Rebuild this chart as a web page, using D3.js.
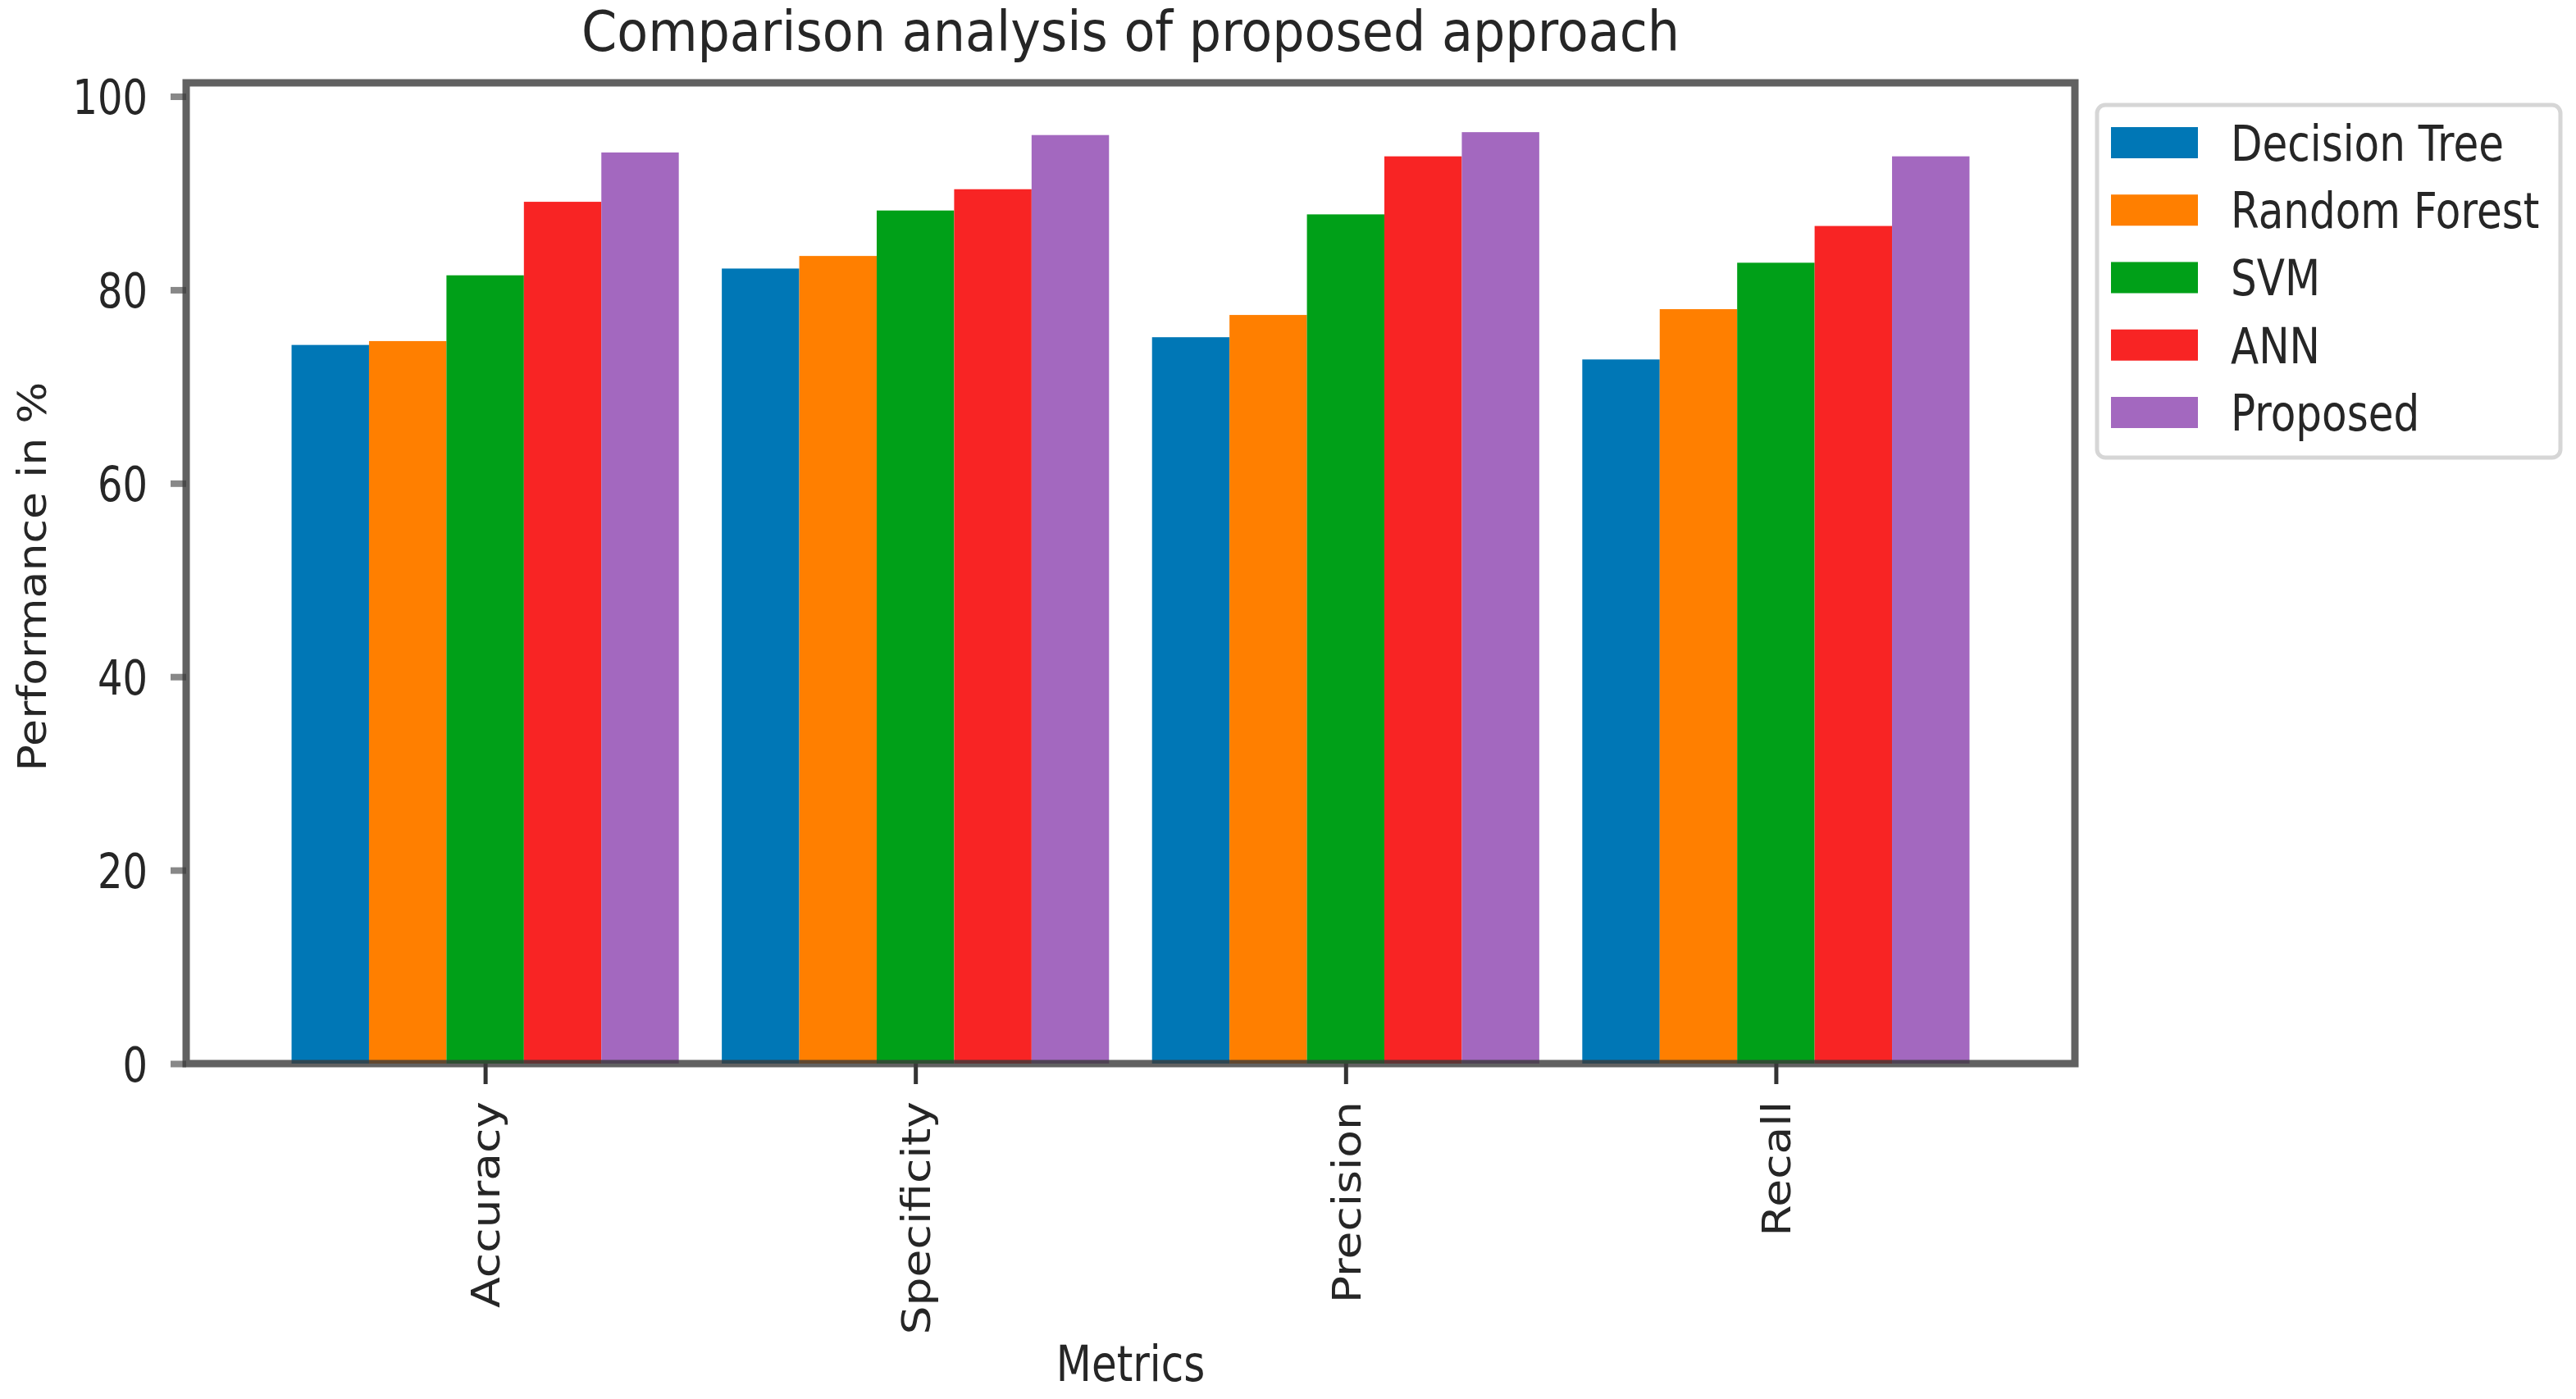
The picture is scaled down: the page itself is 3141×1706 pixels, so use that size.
<!DOCTYPE html>
<html>
<head>
<meta charset="utf-8">
<title>Comparison analysis of proposed approach</title>
<script src="https://cdn.jsdelivr.net/npm/d3@7/dist/d3.min.js"></script>
<style>
  body { margin: 0; background: #fff; }
  text { font-family: "DejaVu Sans", sans-serif; fill: #262626; }
</style>
</head>
<body>
<script>
// data
var metrics = ["Accuracy", "Specificity", "Precision", "Recall"];
var models = ["Decision Tree", "Random Forest", "SVM", "ANN", "Proposed"];
var decisionTree = [74.3, 82.2, 75.1, 72.8];
var randomForest = [74.7, 83.5, 77.4, 78.0];
var svmScores = [81.5, 88.2, 87.8, 82.8];
var annScores = [89.1, 90.4, 93.8, 86.6];
var proposed = [94.2, 96.0, 96.3, 93.8];
var yTicks = [0, 20, 40, 60, 80, 100];
var colors = ["#0077b6", "#ff7f00", "#00a018", "#f82424", "#a368bf"];

var series = [decisionTree, randomForest, svmScores, annScores, proposed];

var W = 3141, H = 1706;
// plot box (window.top is reserved, so use own names)
var pLeft = 227, pRight = 2530, pTop = 101, pBottom = 1297;
var ky = 1.22; // the picture is stretched a bit vertically
var fs = 48;

var svg = d3.select("body").append("svg")
  .attr("width", W).attr("height", H);

var x = d3.scaleLinear().domain([-0.695, 3.695]).range([pLeft, pRight]);
var y = d3.scaleLinear().domain([0, 101.4]).range([pBottom, pTop]);
var barW = 0.18;

// bars
series.forEach(function (vals, s) {
  svg.append("g").selectAll("rect")
    .data(vals)
    .enter()
    .append("rect")
    .attr("x", function (d, i) { return x(i + (s - 2) * barW - barW / 2); })
    .attr("width", x(barW) - x(0))
    .attr("y", function (d) { return y(d); })
    .attr("height", function (d) { return pBottom - y(d); })
    .attr("fill", colors[s]);
});

// y axis
var yAxis = d3.axisLeft(y).tickValues(yTicks).tickSize(19).tickPadding(0).tickFormat(d3.format("d"));
var gy = svg.append("g").attr("transform", "translate(" + pLeft + ",0)").call(yAxis);
gy.select(".domain").remove();
gy.selectAll(".tick line").attr("stroke", "#888").attr("stroke-width", 8);
gy.selectAll(".tick text").remove();
gy.selectAll(".tick").append("text")
  .attr("transform", "translate(-47,0) scale(1," + ky + ")")
  .attr("text-anchor", "end")
  .attr("dy", "0.36em")
  .attr("font-size", fs)
  .text(function (d) { return d; });

// x axis
var xAxis = d3.axisBottom(x).tickValues([0, 1, 2, 3]).tickSize(25).tickFormat("");
var gx = svg.append("g").attr("transform", "translate(0," + pBottom + ")").call(xAxis);
gx.select(".domain").remove();
gx.selectAll(".tick line").attr("stroke", "#333").attr("stroke-width", 5);
gx.selectAll(".tick").append("text")
  .attr("transform", "translate(0,46) rotate(-90) scale(1.15,1)")
  .attr("text-anchor", "end")
  .attr("dy", "0.36em")
  .attr("font-size", fs)
  .text(function (d) { return metrics[d]; });

// frame
svg.append("rect")
  .attr("x", pLeft).attr("y", pTop)
  .attr("width", pRight - pLeft).attr("height", pBottom - pTop)
  .attr("fill", "none")
  .attr("stroke", "#3a3a3a").attr("stroke-opacity", 0.8).attr("stroke-width", 9);

// title and axis labels
svg.append("text")
  .attr("transform", "translate(" + ((pLeft + pRight) / 2) + ",62) scale(1,1.1)")
  .attr("text-anchor", "middle")
  .attr("font-size", 62)
  .text("Comparison analysis of proposed approach");

svg.append("text")
  .attr("transform", "translate(" + ((pLeft + pRight) / 2) + ",1684) scale(1," + ky + ")")
  .attr("text-anchor", "middle")
  .attr("font-size", 50)
  .text("Metrics");

svg.append("text")
  .attr("transform", "translate(56," + ((pTop + pBottom) / 2 + 4) + ") rotate(-90) scale(1.12,1)")
  .attr("text-anchor", "middle")
  .attr("font-size", fs)
  .text("Performance in %");

// legend
var lg = svg.append("g");
lg.append("rect")
  .attr("x", 2557).attr("y", 128).attr("width", 565).attr("height", 430)
  .attr("rx", 10).attr("fill", "#fff")
  .attr("stroke", "#d6d6d6").attr("stroke-width", 5);
var ly = d3.scalePoint().domain(models).range([174, 503]);
var item = lg.selectAll("g.item").data(models).enter().append("g")
  .attr("transform", function (d) { return "translate(0," + ly(d) + ")"; });
item.append("rect")
  .attr("x", 2574).attr("y", -19).attr("width", 106).attr("height", 38)
  .attr("fill", function (d, i) { return colors[i]; });
item.append("text")
  .attr("transform", "translate(2720,0) scale(1," + ky + ")")
  .attr("dy", "0.36em")
  .attr("font-size", 50)
  .text(function (d) { return d; });
</script>
</body>
</html>
